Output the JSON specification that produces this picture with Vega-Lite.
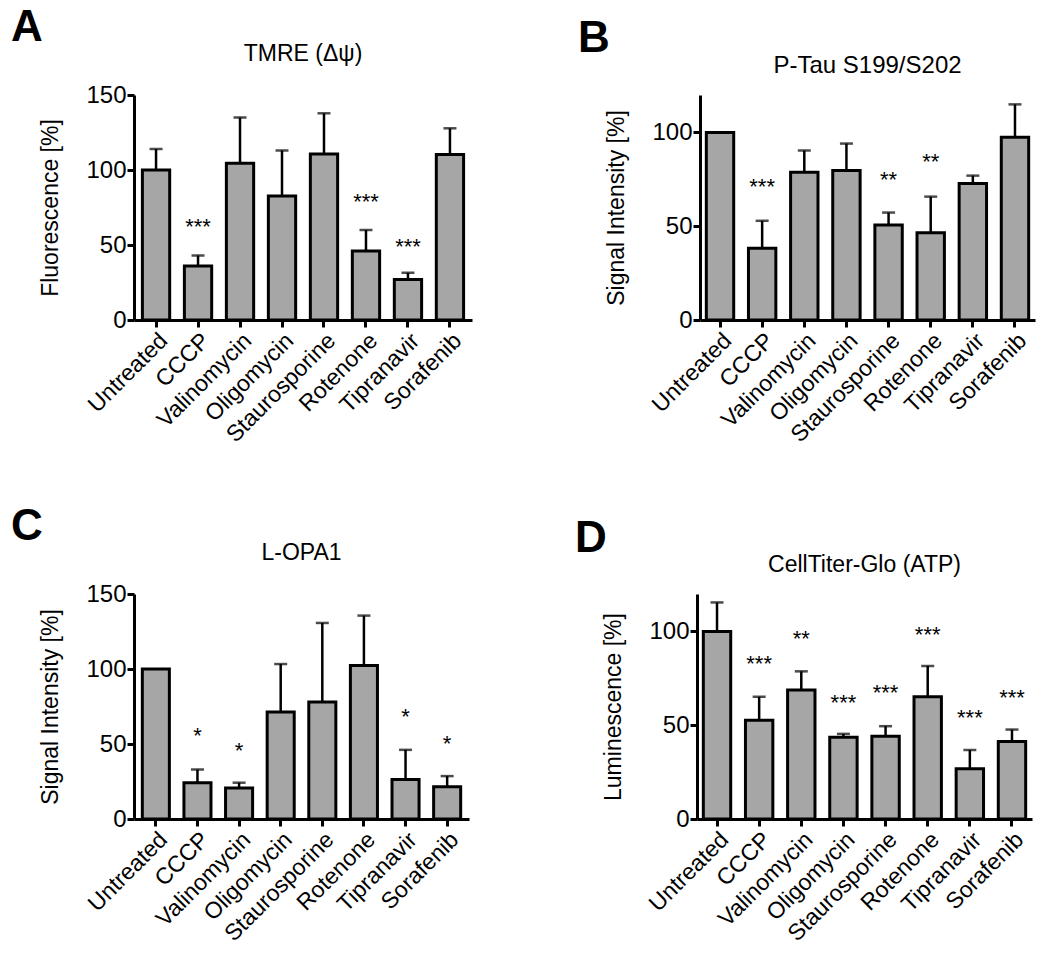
{
  "$schema": "https://vega.github.io/schema/vega-lite/v6.json",
  "padding": {"left": 10, "top": 6, "right": 5, "bottom": 0},
  "spacing": 58,
  "config": {
    "font": "Liberation Sans",
    "view": {"stroke": null},
    "axis": {"domainColor": "black", "domainWidth": 3, "tickColor": "black", "tickWidth": 3, "tickSize": 7, "labelColor": "black", "labelFontSize": 24, "labelFont": "Liberation Sans", "titleFont": "Liberation Sans", "titleFontSize": 23, "titleFontWeight": "normal", "titleColor": "black", "grid": false},
    "axisX": {"labelAngle": -45, "labelPadding": 2, "labelFontSize": 23},
    "axisY": {"labelPadding": 1, "titlePadding": 23},
    "title": {"font": "Liberation Sans", "fontSize": 23, "fontWeight": "normal", "color": "black"},
    "concat": {"spacing": 105}
  },
  "datasets": {
    "A": [
      {"treatment": "Untreated", "mean": 100, "err": 114, "sig": "", "sigY": null},
      {"treatment": "CCCP", "mean": 36, "err": 43, "sig": "***", "sigY": 62},
      {"treatment": "Valinomycin", "mean": 104.5, "err": 135, "sig": "", "sigY": null},
      {"treatment": "Oligomycin", "mean": 82.7, "err": 113, "sig": "", "sigY": null},
      {"treatment": "Staurosporine", "mean": 110.7, "err": 137.8, "sig": "", "sigY": null},
      {"treatment": "Rotenone", "mean": 46, "err": 60, "sig": "***", "sigY": 79},
      {"treatment": "Tipranavir", "mean": 27, "err": 31.5, "sig": "***", "sigY": 49},
      {"treatment": "Sorafenib", "mean": 110.4, "err": 127.8, "sig": "", "sigY": null}
    ],
    "B": [
      {"treatment": "Untreated", "mean": 100, "err": null, "sig": "", "sigY": null},
      {"treatment": "CCCP", "mean": 38.3, "err": 52.9, "sig": "***", "sigY": 71.2},
      {"treatment": "Valinomycin", "mean": 78.8, "err": 90.4, "sig": "", "sigY": null},
      {"treatment": "Oligomycin", "mean": 79.7, "err": 94.1, "sig": "", "sigY": null},
      {"treatment": "Staurosporine", "mean": 50.7, "err": 57.3, "sig": "**", "sigY": 74.7},
      {"treatment": "Rotenone", "mean": 46.6, "err": 65.8, "sig": "**", "sigY": 84.2},
      {"treatment": "Tipranavir", "mean": 72.8, "err": 77, "sig": "", "sigY": null},
      {"treatment": "Sorafenib", "mean": 97.5, "err": 115, "sig": "", "sigY": null}
    ],
    "C": [
      {"treatment": "Untreated", "mean": 100, "err": null, "sig": "", "sigY": null},
      {"treatment": "CCCP", "mean": 24.2, "err": 33, "sig": "*", "sigY": 55.2},
      {"treatment": "Valinomycin", "mean": 20.6, "err": 24.2, "sig": "*", "sigY": 45.4},
      {"treatment": "Oligomycin", "mean": 71.3, "err": 103.3, "sig": "", "sigY": null},
      {"treatment": "Staurosporine", "mean": 78, "err": 130.7, "sig": "", "sigY": null},
      {"treatment": "Rotenone", "mean": 102.4, "err": 135.6, "sig": "", "sigY": null},
      {"treatment": "Tipranavir", "mean": 26.4, "err": 46.1, "sig": "*", "sigY": 68},
      {"treatment": "Sorafenib", "mean": 21.5, "err": 28.6, "sig": "*", "sigY": 50.3}
    ],
    "D": [
      {"treatment": "Untreated", "mean": 100, "err": 115.5, "sig": "", "sigY": null},
      {"treatment": "CCCP", "mean": 52.7, "err": 65.2, "sig": "***", "sigY": 82.9},
      {"treatment": "Valinomycin", "mean": 68.75, "err": 78.75, "sig": "**", "sigY": 96.25},
      {"treatment": "Oligomycin", "mean": 43.6, "err": 45.4, "sig": "***", "sigY": 62},
      {"treatment": "Staurosporine", "mean": 44.1, "err": 49.5, "sig": "***", "sigY": 67.3},
      {"treatment": "Rotenone", "mean": 65.2, "err": 81.6, "sig": "***", "sigY": 98.2},
      {"treatment": "Tipranavir", "mean": 26.8, "err": 36.8, "sig": "***", "sigY": 53.9},
      {"treatment": "Sorafenib", "mean": 41.4, "err": 47.7, "sig": "***", "sigY": 64.3}
    ]
  },
  "vconcat": [
    {
      "hconcat": [
        {
          "title": {"text": "A", "anchor": "start", "frame": "bounds", "fontSize": 44, "fontWeight": "bold", "dx": -29, "offset": -7},
          "vconcat": [{
            "title": {"text": "TMRE (Δψ)", "offset": 17},
            "width": 338, "height": 225,
            "data": {"name": "A"},
            "encoding": {"x": {"field": "treatment", "type": "nominal", "sort": ["Untreated", "CCCP", "Valinomycin", "Oligomycin", "Staurosporine", "Rotenone", "Tipranavir", "Sorafenib"], "scale": {"paddingInner": 0.35, "paddingOuter": 0.2}, "axis": {"title": null}}},
            "layer": [
              {"transform": [{"filter": "datum.err != null"}], "mark": {"type": "rule", "color": "black", "strokeWidth": 2.5}, "encoding": {"y": {"field": "mean", "type": "quantitative", "scale": {"domain": [0, 150], "nice": false}, "axis": {"values": [0, 50, 100, 150], "title": "Fluorescence [%]"}}, "y2": {"field": "err"}}},
              {"transform": [{"filter": "datum.err != null"}], "mark": {"type": "tick", "color": "black", "thickness": 2.5, "size": 13}, "encoding": {"y": {"field": "err", "type": "quantitative", "axis": {"values": [0, 50, 100, 150], "title": "Fluorescence [%]"}}}},
              {"mark": {"type": "bar", "fill": "#a6a6a6", "stroke": "black", "strokeWidth": 3}, "encoding": {"y": {"field": "mean", "type": "quantitative", "axis": {"values": [0, 50, 100, 150], "title": "Fluorescence [%]"}}}},
              {"transform": [{"filter": "datum.sig != ''"}], "mark": {"type": "text", "fontSize": 22, "baseline": "middle", "color": "black"}, "encoding": {"y": {"field": "sigY", "type": "quantitative", "axis": {"values": [0, 50, 100, 150], "title": "Fluorescence [%]"}}, "text": {"field": "sig"}}}
            ]
          }]
        },
        {
          "title": {"text": "B", "anchor": "start", "frame": "bounds", "fontSize": 44, "fontWeight": "bold", "dx": -28, "offset": -7},
          "vconcat": [{
            "title": {"text": "P-Tau S199/S202", "offset": 17, "fontSize": 24},
            "width": 335, "height": 225,
            "data": {"name": "B"},
            "encoding": {"x": {"field": "treatment", "type": "nominal", "sort": ["Untreated", "CCCP", "Valinomycin", "Oligomycin", "Staurosporine", "Rotenone", "Tipranavir", "Sorafenib"], "scale": {"paddingInner": 0.35, "paddingOuter": 0.15}, "axis": {"title": null}}},
            "layer": [
              {"transform": [{"filter": "datum.err != null"}], "mark": {"type": "rule", "color": "black", "strokeWidth": 2.5}, "encoding": {"y": {"field": "mean", "type": "quantitative", "scale": {"domain": [0, 120], "nice": false}, "axis": {"values": [0, 50, 100], "title": "Signal Intensity [%]"}}, "y2": {"field": "err"}}},
              {"transform": [{"filter": "datum.err != null"}], "mark": {"type": "tick", "color": "black", "thickness": 2.5, "size": 13}, "encoding": {"y": {"field": "err", "type": "quantitative", "axis": {"values": [0, 50, 100], "title": "Signal Intensity [%]"}}}},
              {"mark": {"type": "bar", "fill": "#a6a6a6", "stroke": "black", "strokeWidth": 3}, "encoding": {"y": {"field": "mean", "type": "quantitative", "axis": {"values": [0, 50, 100], "title": "Signal Intensity [%]"}}}},
              {"transform": [{"filter": "datum.sig != ''"}], "mark": {"type": "text", "fontSize": 22, "baseline": "middle", "color": "black"}, "encoding": {"y": {"field": "sigY", "type": "quantitative", "axis": {"values": [0, 50, 100], "title": "Signal Intensity [%]"}}, "text": {"field": "sig"}}}
            ]
          }]
        }
      ]
    },
    {
      "hconcat": [
        {
          "title": {"text": "C", "anchor": "start", "frame": "bounds", "fontSize": 44, "fontWeight": "bold", "dx": -29, "offset": -7},
          "vconcat": [{
            "title": {"text": "L-OPA1", "offset": 17},
            "width": 335, "height": 225,
            "data": {"name": "C"},
            "encoding": {"x": {"field": "treatment", "type": "nominal", "sort": ["Untreated", "CCCP", "Valinomycin", "Oligomycin", "Staurosporine", "Rotenone", "Tipranavir", "Sorafenib"], "scale": {"paddingInner": 0.35, "paddingOuter": 0.2}, "axis": {"title": null}}},
            "layer": [
              {"transform": [{"filter": "datum.err != null"}], "mark": {"type": "rule", "color": "black", "strokeWidth": 2.5}, "encoding": {"y": {"field": "mean", "type": "quantitative", "scale": {"domain": [0, 150], "nice": false}, "axis": {"values": [0, 50, 100, 150], "title": "Signal Intensity [%]"}}, "y2": {"field": "err"}}},
              {"transform": [{"filter": "datum.err != null"}], "mark": {"type": "tick", "color": "black", "thickness": 2.5, "size": 13}, "encoding": {"y": {"field": "err", "type": "quantitative", "axis": {"values": [0, 50, 100, 150], "title": "Signal Intensity [%]"}}}},
              {"mark": {"type": "bar", "fill": "#a6a6a6", "stroke": "black", "strokeWidth": 3}, "encoding": {"y": {"field": "mean", "type": "quantitative", "axis": {"values": [0, 50, 100, 150], "title": "Signal Intensity [%]"}}}},
              {"transform": [{"filter": "datum.sig != ''"}], "mark": {"type": "text", "fontSize": 22, "baseline": "middle", "color": "black"}, "encoding": {"y": {"field": "sigY", "type": "quantitative", "axis": {"values": [0, 50, 100, 150], "title": "Signal Intensity [%]"}}, "text": {"field": "sig"}}}
            ]
          }]
        },
        {
          "title": {"text": "D", "anchor": "start", "frame": "bounds", "fontSize": 44, "fontWeight": "bold", "dx": -28, "offset": -7},
          "vconcat": [{
            "title": {"text": "CellTiter-Glo (ATP)", "offset": 17},
            "width": 335, "height": 225,
            "data": {"name": "D"},
            "encoding": {"x": {"field": "treatment", "type": "nominal", "sort": ["Untreated", "CCCP", "Valinomycin", "Oligomycin", "Staurosporine", "Rotenone", "Tipranavir", "Sorafenib"], "scale": {"paddingInner": 0.35, "paddingOuter": 0.15}, "axis": {"title": null}}},
            "layer": [
              {"transform": [{"filter": "datum.err != null"}], "mark": {"type": "rule", "color": "black", "strokeWidth": 2.5}, "encoding": {"y": {"field": "mean", "type": "quantitative", "scale": {"domain": [0, 120], "nice": false}, "axis": {"values": [0, 50, 100], "title": "Luminescence [%]"}}, "y2": {"field": "err"}}},
              {"transform": [{"filter": "datum.err != null"}], "mark": {"type": "tick", "color": "black", "thickness": 2.5, "size": 13}, "encoding": {"y": {"field": "err", "type": "quantitative", "axis": {"values": [0, 50, 100], "title": "Luminescence [%]"}}}},
              {"mark": {"type": "bar", "fill": "#a6a6a6", "stroke": "black", "strokeWidth": 3}, "encoding": {"y": {"field": "mean", "type": "quantitative", "axis": {"values": [0, 50, 100], "title": "Luminescence [%]"}}}},
              {"transform": [{"filter": "datum.sig != ''"}], "mark": {"type": "text", "fontSize": 22, "baseline": "middle", "color": "black"}, "encoding": {"y": {"field": "sigY", "type": "quantitative", "axis": {"values": [0, 50, 100], "title": "Luminescence [%]"}}, "text": {"field": "sig"}}}
            ]
          }]
        }
      ]
    }
  ]
}
